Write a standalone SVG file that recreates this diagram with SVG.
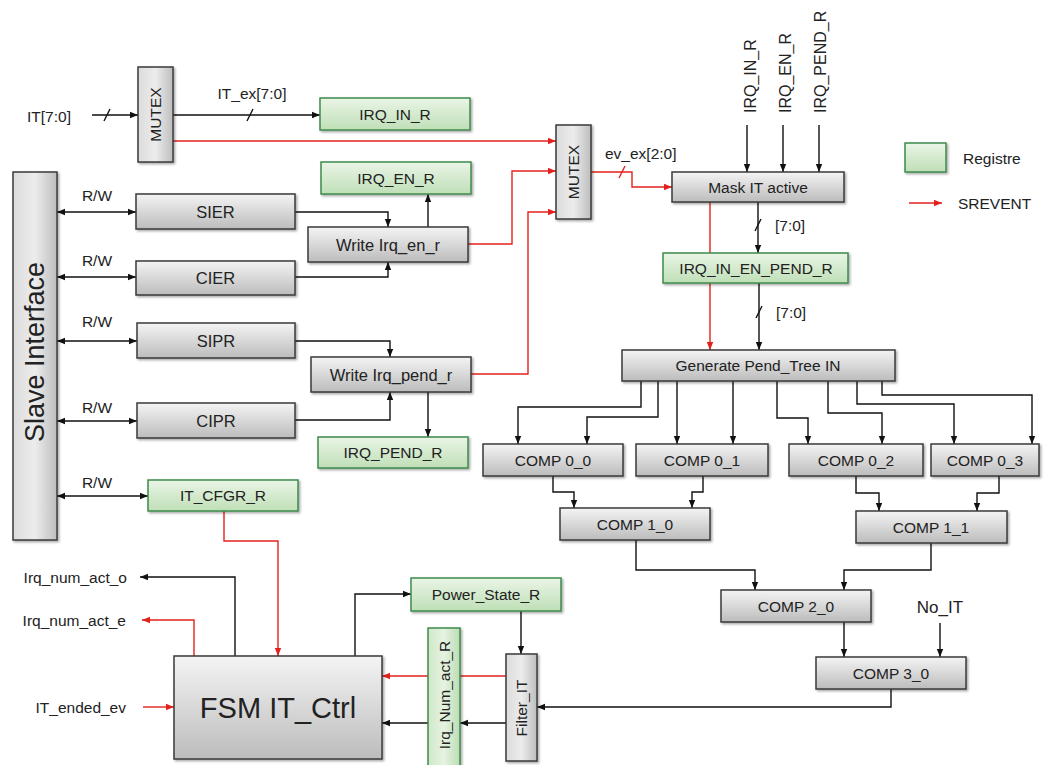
<svg xmlns="http://www.w3.org/2000/svg" width="1053" height="765" viewBox="0 0 1053 765">
<defs>
<linearGradient id="gg" x1="0" y1="0" x2="0" y2="1"><stop offset="0" stop-color="#f4f4f4"/><stop offset="1" stop-color="#bcbcbc"/></linearGradient>
<linearGradient id="gh" x1="0" y1="0" x2="1" y2="0"><stop offset="0" stop-color="#dcdcdc"/><stop offset="0.5" stop-color="#ececec"/><stop offset="1" stop-color="#bdbdbd"/></linearGradient>
<linearGradient id="gr" x1="0" y1="0" x2="0" y2="1"><stop offset="0" stop-color="#eaf5e6"/><stop offset="1" stop-color="#bfdfb7"/></linearGradient>
<linearGradient id="grh" x1="0" y1="0" x2="1" y2="0"><stop offset="0" stop-color="#cfe8c8"/><stop offset="0.5" stop-color="#e6f3e2"/><stop offset="1" stop-color="#bcdcb3"/></linearGradient>
<filter id="sh" x="-10%" y="-10%" width="130%" height="140%"><feDropShadow dx="1.5" dy="1.5" stdDeviation="1" flood-color="#000" flood-opacity="0.35"/></filter>
<marker id="ab" viewBox="0 0 10 10" refX="10" refY="5" markerWidth="8" markerHeight="8" markerUnits="userSpaceOnUse" orient="auto-start-reverse"><path d="M0,1 L10,5 L0,9 z" fill="#111"/></marker>
<marker id="ar" viewBox="0 0 10 10" refX="10" refY="5" markerWidth="8" markerHeight="8" markerUnits="userSpaceOnUse" orient="auto-start-reverse"><path d="M0,1 L10,5 L0,9 z" fill="#e3211c"/></marker>
</defs>
<style>
.t{font-family:"Liberation Sans",Arial,sans-serif;font-size:15.5px;fill:#222;text-anchor:middle;dominant-baseline:central}
.s{text-anchor:start}
.e{text-anchor:end}
.g{fill:url(#gg);stroke:#3a3a3a;stroke-width:1.5;filter:url(#sh)}
.gv{fill:url(#gh);stroke:#3a3a3a;stroke-width:1.5;filter:url(#sh)}
.r{fill:url(#gr);stroke:#3e8a4c;stroke-width:1.5;filter:url(#sh)}
.rv{fill:url(#grh);stroke:#3e8a4c;stroke-width:1.5;filter:url(#sh)}
.k{fill:none;stroke:#111;stroke-width:1.4}
.kr{fill:none;stroke:#e3211c;stroke-width:1.4}
.ka{marker-end:url(#ab)}
.kd{marker-start:url(#ab);marker-end:url(#ab)}
.ra{marker-end:url(#ar)}
</style>
<rect width="1053" height="765" fill="#fff"/>

<g id="connectors">
 <path class="k ka" d="M92,115 H138"/>
 <path class="k" d="M104,121 L110,109"/>
 <path class="k ka" d="M173,115 H320"/>
 <path class="k" d="M247,121 L253,109"/>
 <path class="kr ra" d="M173,141 H556"/>
 <path class="k kd" d="M57,212 H136"/>
 <path class="k kd" d="M57,277 H136"/>
 <path class="k kd" d="M57,341 H137"/>
 <path class="k kd" d="M57,421 H137"/>
 <path class="k kd" d="M57,496 H148"/>
 <path class="k ka" d="M295,212 H388 V227"/>
 <path class="k ka" d="M295,277 H388 V262"/>
 <path class="k ka" d="M428,227 V194"/>
 <path class="k ka" d="M295,341 H390 V357"/>
 <path class="k ka" d="M295,420 H390 V392"/>
 <path class="k ka" d="M428,392 V437"/>
 <path class="kr ra" d="M468,244 H512 V171 H556"/>
 <path class="kr ra" d="M471,374 H528 V212 H556"/>
 <path class="kr ra" d="M591,172 H632 V187 H672"/>
 <path class="kr" d="M619,178 L625,166"/>
 <path class="k ka" d="M747,125 V172"/>
 <path class="k ka" d="M783,125 V172"/>
 <path class="k ka" d="M819,125 V172"/>
 <path class="k ka" d="M758,202 V253"/>
 <path class="k" d="M755,231 L761,219"/>
 <path class="kr ra" d="M710,202 V350"/>
 <path class="k ka" d="M759,283 V350"/>
 <path class="k" d="M756,318 L762,306"/>
 <path class="k ka" d="M641,381 V407 H518 V444"/>
 <path class="k ka" d="M658,381 V417 H587 V444"/>
 <path class="k ka" d="M677,381 V444"/>
 <path class="k ka" d="M733,381 V444"/>
 <path class="k ka" d="M777,381 V418 H808 V444"/>
 <path class="k ka" d="M828,381 V413 H882 V444"/>
 <path class="k ka" d="M857,381 V404 H954 V444"/>
 <path class="k ka" d="M882,381 V395 H1032 V444"/>
 <path class="k ka" d="M553,476 V492 H574 V508"/>
 <path class="k ka" d="M703,476 V492 H692 V508"/>
 <path class="k ka" d="M856,476 V493 H879 V511"/>
 <path class="k ka" d="M999,476 V493 H977 V511"/>
 <path class="k ka" d="M636,540 V570 H755 V590"/>
 <path class="k ka" d="M931,543 V570 H844 V590"/>
 <path class="k ka" d="M844,622 V657"/>
 <path class="k ka" d="M940,623 V657"/>
 <path class="k ka" d="M891,689 V707 H537"/>
 <path class="k ka" d="M521,611 V654"/>
 <path class="k ka" d="M355,656 V594 H411"/>
 <path class="k ka" d="M235,656 V577 H140"/>
 <path class="kr ra" d="M194,656 V620 H142"/>
 <path class="kr ra" d="M143,707 H174"/>
 <path class="kr ra" d="M224,511 V541 H278 V656"/>
 <path class="kr ra" d="M506,676 H382"/>
 <path class="k ka" d="M506,723 H460"/>
 <path class="k ka" d="M428,723 H382"/>
</g>

<g id="labels">
 <text class="t" x="49" y="116">IT[7:0]</text>
 <text class="t" x="252" y="93">IT_ex[7:0]</text>
 <text class="t s" x="605" y="153">ev_ex[2:0]</text>
 <text class="t s" x="775" y="225">[7:0]</text>
 <text class="t s" x="776" y="312">[7:0]</text>
 <text class="t" x="97" y="195">R/W</text>
 <text class="t" x="97" y="260">R/W</text>
 <text class="t" x="97" y="321">R/W</text>
 <text class="t" x="97" y="407">R/W</text>
 <text class="t" x="97" y="482">R/W</text>
 <text class="t s" transform="translate(750,113) rotate(-90)" style="font-size:16px">IRQ_IN_R</text>
 <text class="t s" transform="translate(785,113) rotate(-90)" style="font-size:16px">IRQ_EN_R</text>
 <text class="t s" transform="translate(820,113) rotate(-90)" style="font-size:16px">IRQ_PEND_R</text>
 <text class="t e" x="127" y="577">Irq_num_act_o</text>
 <text class="t e" x="126" y="620">Irq_num_act_e</text>
 <text class="t e" x="126" y="707">IT_ended_ev</text>
 <text class="t" x="940" y="607" style="font-size:17px">No_IT</text>
</g>

<g id="legend">
 <rect class="r" x="905" y="143" width="41" height="29"/>
 <text class="t s" x="963" y="158">Registre</text>
 <path class="kr ra" d="M909,203 H942"/>
 <text class="t s" x="958" y="203">SREVENT</text>
</g>

<g id="mutex1"><rect class="gv" x="138" y="67" width="35" height="95"/><text class="t" transform="translate(155.5,114.5) rotate(-90)">MUTEX</text></g>
<g id="irq_in_r"><rect class="r" x="320" y="98" width="150" height="32"/><text class="t" x="395" y="114">IRQ_IN_R</text></g>
<g id="mutex2"><rect class="gv" x="556" y="125" width="35" height="94"/><text class="t" transform="translate(573.5,172) rotate(-90)">MUTEX</text></g>
<g id="mask_it_active"><rect class="g" x="672" y="172" width="172" height="30"/><text class="t" x="758" y="187">Mask IT active</text></g>
<g id="slave_interface"><rect class="gv" x="13" y="172" width="44" height="368"/><text class="t" transform="translate(35,352) rotate(-90)" style="font-size:27px">Slave Interface</text></g>
<g id="sier"><rect class="g" x="136" y="194" width="159" height="35"/><text class="t" x="215.5" y="211.5" style="font-size:16.5px">SIER</text></g>
<g id="cier"><rect class="g" x="136" y="261" width="159" height="34"/><text class="t" x="215.5" y="278" style="font-size:16.5px">CIER</text></g>
<g id="sipr"><rect class="g" x="137" y="323" width="158" height="35"/><text class="t" x="216" y="340.5" style="font-size:16.5px">SIPR</text></g>
<g id="cipr"><rect class="g" x="137" y="403" width="158" height="35"/><text class="t" x="216" y="420.5" style="font-size:16.5px">CIPR</text></g>
<g id="it_cfgr_r"><rect class="r" x="148" y="480" width="150" height="31"/><text class="t" x="223" y="495.5">IT_CFGR_R</text></g>
<g id="irq_en_r"><rect class="r" x="321" y="162" width="150" height="32"/><text class="t" x="396" y="178">IRQ_EN_R</text></g>
<g id="write_irq_en_r"><rect class="g" x="308" y="227" width="160" height="35"/><text class="t" x="388" y="244.5" style="font-size:16.5px">Write Irq_en_r</text></g>
<g id="write_irq_pend_r"><rect class="g" x="311" y="357" width="160" height="35"/><text class="t" x="391" y="374.5" style="font-size:16.5px">Write Irq_pend_r</text></g>
<g id="irq_pend_r"><rect class="r" x="318" y="437" width="150" height="31"/><text class="t" x="393" y="452.5">IRQ_PEND_R</text></g>
<g id="irq_in_en_pend_r"><rect class="r" x="663" y="253" width="185" height="30"/><text class="t" x="756" y="268">IRQ_IN_EN_PEND_R</text></g>
<g id="generate_pend_tree"><rect class="g" x="622" y="350" width="273" height="31"/><text class="t" x="758" y="365.5">Generate Pend_Tree IN</text></g>
<g id="comp0_0"><rect class="g" x="483" y="444" width="140" height="32"/><text class="t" x="553" y="460">COMP 0_0</text></g>
<g id="comp0_1"><rect class="g" x="636" y="444" width="132" height="32"/><text class="t" x="702" y="460">COMP 0_1</text></g>
<g id="comp0_2"><rect class="g" x="789" y="444" width="134" height="32"/><text class="t" x="856" y="460">COMP 0_2</text></g>
<g id="comp0_3"><rect class="g" x="931" y="444" width="108" height="32"/><text class="t" x="985" y="460">COMP 0_3</text></g>
<g id="comp1_0"><rect class="g" x="560" y="508" width="150" height="32"/><text class="t" x="635" y="524">COMP 1_0</text></g>
<g id="comp1_1"><rect class="g" x="856" y="511" width="151" height="32"/><text class="t" x="931" y="527">COMP 1_1</text></g>
<g id="comp2_0"><rect class="g" x="721" y="590" width="150" height="32"/><text class="t" x="796" y="606">COMP 2_0</text></g>
<g id="comp3_0"><rect class="g" x="816" y="657" width="150" height="32"/><text class="t" x="891" y="673">COMP 3_0</text></g>
<g id="fsm_it_ctrl"><rect class="g" x="174" y="656" width="208" height="103"/><text class="t" x="278" y="708" style="font-size:29px">FSM IT_Ctrl</text></g>
<g id="power_state_r"><rect class="r" x="411" y="578" width="150" height="33"/><text class="t" x="486" y="594.5">Power_State_R</text></g>
<g id="irq_num_act_r"><rect class="rv" x="428" y="628" width="32" height="142"/><text class="t" transform="translate(444,695) rotate(-90)">Irq_Num_act_R</text></g>
<g id="filter_it"><rect class="gv" x="506" y="654" width="31" height="107"/><text class="t" transform="translate(521.5,708) rotate(-90)">Filter_IT</text></g>
</svg>
